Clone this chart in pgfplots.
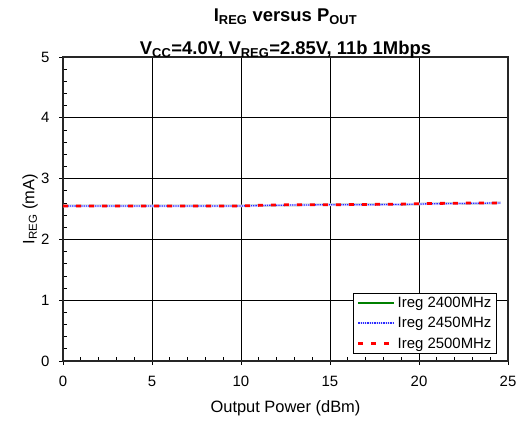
\documentclass[border=0pt]{standalone}
\usepackage{pgfplots}
\pgfplotsset{compat=1.18}
\usepackage{fontspec}
\setmainfont{Liberation Sans}

\definecolor{g1}{HTML}{008000}
\definecolor{b1}{HTML}{2B2BFF}
\definecolor{r1}{HTML}{FF0000}

\begin{document}
\begin{tikzpicture}
\begin{axis}[
  scale only axis,
  width=445bp, height=304bp,
  xmin=0, xmax=25, ymin=0, ymax=5,
  xtick={0,5,...,25}, ytick={0,1,...,5},
  minor x tick num=4, minor y tick num=4,
  tick pos=left,
  grid=major, major grid style={black, line width=0.9pt},
  axis line style={black!85, line width=1.1pt},
  tick style={black, line width=0.7pt},
  tick align=inside,
  major tick length=7bp, minor tick length=4bp,
  major x tick style={yshift=-3.5bp},
  major y tick style={xshift=-3.5bp},
  ticklabel style={font=\fontsize{15}{17}\selectfont},
  xticklabel style={yshift=-12bp},
  yticklabel style={xshift=-10bp},
  /pgf/number format/assume math mode=true,
  xlabel={Output Power (dBm)},
  ylabel={I\textsubscript{REG} (mA)},
  every axis x label/.style={at={(axis description cs:0.5,0)}, anchor=center, yshift=-47bp, font=\fontsize{16.5}{18}\selectfont},
  every axis y label/.style={at={(axis description cs:0,0.5)}, anchor=center, rotate=90, yshift=33bp, font=\fontsize{16.5}{18}\selectfont},
  title={\textbf{I\textsubscript{REG} versus P\textsubscript{OUT}}\\[13bp]\textbf{V\textsubscript{CC}=4.0V, V\textsubscript{REG}=2.85V, 11b 1Mbps}},
  title style={font=\fontsize{18.5}{20}\selectfont, align=center, at={(axis description cs:0.5,1)}, anchor=south, yshift=-10.5bp},
  legend style={at={(0.975,0.025)}, anchor=south east, draw=black, line width=0.8pt,
    font=\fontsize{15}{17}\selectfont, row sep=4.5bp, inner xsep=3bp, inner ysep=1.5bp},
  legend cell align=left,
  legend image code/.code={\draw[#1] (0bp,0bp) -- (36bp,0bp);},
]
\addplot[g1, line width=2pt] coordinates {(0,2.55) (2,2.55) (4,2.55) (6,2.55) (8,2.55) (10,2.55) (11.5,2.56) (13,2.565) (15,2.57) (17,2.57) (19,2.575) (20.5,2.585) (22,2.59) (23.5,2.595) (24.6,2.6)};
\addlegendentry{Ireg 2400MHz}
\addplot[b1, line width=1.3pt, densely dotted, preaction={draw=blue!12, line width=2.6pt, solid}] coordinates {(0,2.55) (2,2.55) (4,2.55) (6,2.55) (8,2.55) (10,2.55) (11.5,2.56) (13,2.565) (15,2.57) (17,2.57) (19,2.575) (20.5,2.585) (22,2.59) (23.5,2.595) (24.6,2.6)};
\addlegendentry{Ireg 2450MHz}
\addplot[r1, line width=2.8pt, dash pattern=on 5bp off 8bp] coordinates {(0,2.55) (2,2.55) (4,2.55) (6,2.55) (8,2.55) (10,2.55) (11.5,2.565) (13,2.57) (15,2.57) (17,2.575) (19,2.58) (20.5,2.59) (22,2.595) (23.5,2.6) (24.4,2.6)};
\addlegendentry{Ireg 2500MHz}
\end{axis}
\pgfresetboundingbox
\path ([xshift=-63bp,yshift=-61bp]current axis.south west) rectangle ([xshift=15bp,yshift=57bp]current axis.north east);
\end{tikzpicture}
\end{document}
